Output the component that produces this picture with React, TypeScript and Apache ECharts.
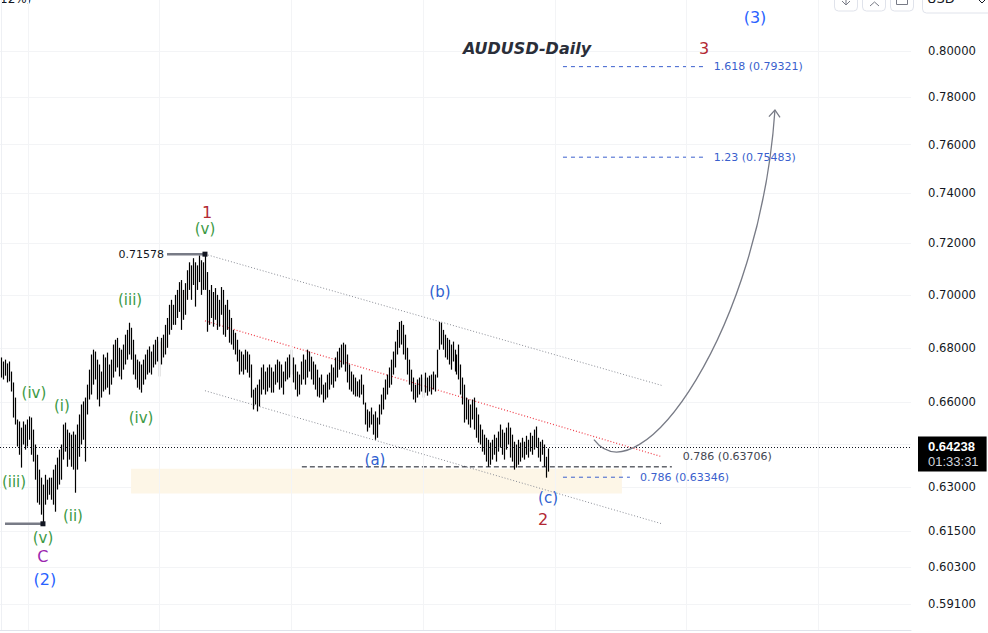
import React, { useEffect, useRef } from "react";
import * as echarts from "echarts";

// ---------- data (AUDUSD daily) ----------
const HIGHS = [
  0.6764, 0.6749, 0.6756, 0.6742, 0.6749, 0.6712, 0.6672, 0.6617, 0.6538, 0.6531,
  0.6509, 0.6531, 0.6520, 0.6538, 0.6549, 0.6545, 0.6502, 0.6449, 0.6413, 0.6361,
  0.6333, 0.6309, 0.6343, 0.6326, 0.6333, 0.6333, 0.6361, 0.6378, 0.6403, 0.6431,
  0.6449, 0.6520, 0.6527, 0.6502, 0.6491, 0.6484, 0.6495, 0.6484, 0.6520, 0.6556,
  0.6592, 0.6603, 0.6617, 0.6664, 0.6719, 0.6775, 0.6793, 0.6786, 0.6756, 0.6738,
  0.6712, 0.6775, 0.6764, 0.6782, 0.6738, 0.6756, 0.6812, 0.6830, 0.6837, 0.6800,
  0.6793, 0.6812, 0.6849, 0.6867, 0.6894, 0.6875, 0.6830, 0.6775, 0.6756, 0.6749,
  0.6738, 0.6756, 0.6775, 0.6793, 0.6805, 0.6786, 0.6812, 0.6830, 0.6841, 0.6823,
  0.6837, 0.6849, 0.6886, 0.6912, 0.6962, 0.6981, 0.6962, 0.7000, 0.7019, 0.7049,
  0.7057, 0.7019, 0.7045, 0.7095, 0.7126, 0.7114, 0.7142, 0.7126, 0.7114, 0.7153,
  0.7134, 0.7126, 0.7158, 0.7088, 0.7019, 0.7038, 0.7011, 0.7026, 0.7000, 0.6981,
  0.7030, 0.7019, 0.6962, 0.6981, 0.6943, 0.6912, 0.6867, 0.6856, 0.6830, 0.6793,
  0.6786, 0.6775, 0.6793, 0.6786, 0.6775, 0.6738, 0.6646, 0.6653, 0.6664, 0.6683,
  0.6727, 0.6738, 0.6712, 0.6727, 0.6738, 0.6727, 0.6712, 0.6738, 0.6756, 0.6749,
  0.6738, 0.6712, 0.6749, 0.6764, 0.6775, 0.6793, 0.6764, 0.6738, 0.6712, 0.6701,
  0.6749, 0.6775, 0.6756, 0.6793, 0.6786, 0.6767, 0.6749, 0.6738, 0.6719, 0.6690,
  0.6701, 0.6664, 0.6672, 0.6701, 0.6708, 0.6738, 0.6727, 0.6764, 0.6786, 0.6800,
  0.6812, 0.6819, 0.6812, 0.6775, 0.6738, 0.6712, 0.6701, 0.6690, 0.6676, 0.6683,
  0.6701, 0.6664, 0.6599, 0.6574, 0.6567, 0.6581, 0.6556, 0.6567, 0.6545, 0.6592,
  0.6628, 0.6653, 0.6683, 0.6701, 0.6727, 0.6756, 0.6786, 0.6823, 0.6867, 0.6897,
  0.6901, 0.6886, 0.6849, 0.6800, 0.6756, 0.6719, 0.6690, 0.6664, 0.6683, 0.6690,
  0.6701, 0.6690, 0.6708, 0.6690, 0.6697, 0.6701, 0.6712, 0.6701, 0.6793, 0.6897,
  0.6894, 0.6867, 0.6849, 0.6837, 0.6830, 0.6812, 0.6823, 0.6793, 0.6775, 0.6812,
  0.6738, 0.6690, 0.6664, 0.6617, 0.6610, 0.6592, 0.6610, 0.6617, 0.6581, 0.6556,
  0.6520, 0.6502, 0.6484, 0.6473, 0.6466, 0.6456, 0.6466, 0.6484, 0.6473, 0.6495,
  0.6520, 0.6502, 0.6491, 0.6509, 0.6527, 0.6509, 0.6484, 0.6459, 0.6449, 0.6466,
  0.6456, 0.6473, 0.6459, 0.6480, 0.6466, 0.6491, 0.6480, 0.6502, 0.6513, 0.6473,
  0.6459, 0.6466, 0.6449, 0.6406, 0.6435,
];
const LOWS = [
  0.6690, 0.6683, 0.6697, 0.6672, 0.6676, 0.6639, 0.6545, 0.6520, 0.6442, 0.6413,
  0.6368, 0.6449, 0.6431, 0.6442, 0.6466, 0.6413, 0.6389, 0.6326, 0.6247, 0.6240,
  0.6206, 0.6175, 0.6240, 0.6257, 0.6274, 0.6257, 0.6240, 0.6216, 0.6292, 0.6309,
  0.6326, 0.6396, 0.6424, 0.6371, 0.6396, 0.6371, 0.6361, 0.6281, 0.6361, 0.6406,
  0.6449, 0.6466, 0.6389, 0.6556, 0.6610, 0.6628, 0.6664, 0.6683, 0.6610, 0.6585,
  0.6617, 0.6639, 0.6646, 0.6653, 0.6628, 0.6664, 0.6690, 0.6712, 0.6727, 0.6694,
  0.6683, 0.6719, 0.6738, 0.6756, 0.6775, 0.6756, 0.6701, 0.6683, 0.6653, 0.6646,
  0.6635, 0.6664, 0.6683, 0.6701, 0.6708, 0.6701, 0.6727, 0.6738, 0.6749, 0.6694,
  0.6738, 0.6764, 0.6775, 0.6800, 0.6849, 0.6867, 0.6886, 0.6886, 0.6912, 0.6935,
  0.6867, 0.6905, 0.6924, 0.6981, 0.7019, 0.6981, 0.7038, 0.6955, 0.7019, 0.7049,
  0.7000, 0.7019, 0.7019, 0.6860, 0.6886, 0.6912, 0.6879, 0.6905, 0.6867, 0.6879,
  0.6924, 0.6849, 0.6841, 0.6867, 0.6819, 0.6812, 0.6793, 0.6775, 0.6749, 0.6701,
  0.6712, 0.6701, 0.6719, 0.6708, 0.6690, 0.6617, 0.6574, 0.6592, 0.6567, 0.6585,
  0.6628, 0.6646, 0.6628, 0.6639, 0.6653, 0.6635, 0.6635, 0.6664, 0.6672, 0.6646,
  0.6653, 0.6628, 0.6676, 0.6683, 0.6690, 0.6701, 0.6672, 0.6646, 0.6621, 0.6628,
  0.6664, 0.6683, 0.6664, 0.6690, 0.6712, 0.6683, 0.6664, 0.6646, 0.6621, 0.6617,
  0.6628, 0.6599, 0.6610, 0.6617, 0.6646, 0.6664, 0.6653, 0.6676, 0.6690, 0.6719,
  0.6727, 0.6738, 0.6712, 0.6672, 0.6646, 0.6639, 0.6628, 0.6621, 0.6621, 0.6617,
  0.6628, 0.6592, 0.6520, 0.6495, 0.6509, 0.6520, 0.6484, 0.6466, 0.6473, 0.6520,
  0.6556, 0.6574, 0.6610, 0.6628, 0.6653, 0.6664, 0.6701, 0.6727, 0.6775, 0.6800,
  0.6812, 0.6775, 0.6756, 0.6701, 0.6664, 0.6639, 0.6610, 0.6599, 0.6617, 0.6628,
  0.6639, 0.6617, 0.6635, 0.6624, 0.6639, 0.6628, 0.6646, 0.6639, 0.6690, 0.6793,
  0.6812, 0.6793, 0.6764, 0.6756, 0.6738, 0.6719, 0.6749, 0.6712, 0.6701, 0.6683,
  0.6628, 0.6592, 0.6527, 0.6538, 0.6520, 0.6509, 0.6538, 0.6502, 0.6473, 0.6456,
  0.6449, 0.6424, 0.6413, 0.6389, 0.6371, 0.6378, 0.6396, 0.6413, 0.6389, 0.6424,
  0.6438, 0.6413, 0.6396, 0.6431, 0.6449, 0.6403, 0.6389, 0.6361, 0.6368, 0.6378,
  0.6389, 0.6403, 0.6396, 0.6413, 0.6403, 0.6424, 0.6413, 0.6431, 0.6438, 0.6403,
  0.6389, 0.6413, 0.6371, 0.6333, 0.6354,
];
const LAST_PRICE = 0.64238;
const LAST_PRICE_TIMER = "01:33:31";

const PRICE_TICKS = [0.8, 0.78, 0.76, 0.74, 0.72, 0.7, 0.68, 0.66, 0.645, 0.63, 0.615, 0.603, 0.591];
const PRICE_MIN = 0.5826;
const PRICE_MAX = 0.8227;
const BAR_SLOTS = 456; // visible bar slots incl. future space
const TIME_GRID_BARS = [13.5, 79.1, 145.1, 211.2, 277.3, 342.8, 408.9];

// Elliott wave labels: [text, bar position, price, degree]
const WAVE_LABELS: [string, number, number, string][] = [
  ["(3)", 377.4, 0.815, "primary"],
  ["3", 351.9, 0.8013, "intermediate"],
  ["1", 103.1, 0.7325, "intermediate"],
  ["(v)", 102.1, 0.7257, "minor"],
  ["(iii)", 64.6, 0.6981, "minor"],
  ["(iv)", 16.5, 0.6635, "minor"],
  ["(i)", 30.5, 0.6588, "minor"],
  ["(iv)", 70.1, 0.6542, "minor"],
  ["(iii)", 6.5, 0.6319, "minor"],
  ["(ii)", 36.0, 0.6202, "minor"],
  ["(v)", 21.0, 0.6127, "minor"],
  ["C", 21.0, 0.6064, "cycleC"],
  ["(2)", 22.0, 0.5991, "primary"],
  ["(b)", 219.7, 0.7011, "abc"],
  ["(a)", 187.2, 0.6396, "abc"],
  ["(c)", 273.8, 0.6264, "abc"],
  ["2", 271.3, 0.6189, "intermediate"],
];

// pivots
const PIVOT_HIGH = { from: 83.1, to: 102.1, price: 0.71578, label: "0.71578" };
const PIVOT_LOW = { from: 2.0, to: 21.0, price: 0.6175 };

// channel: [[bar, price], [bar, price]]
const CHANNEL_UPPER: [number, number][] = [[102.1, 0.71578], [330.8, 0.6661]];
const CHANNEL_MID: [number, number][] = [[102.1, 0.6901], [330.8, 0.6406]];
const CHANNEL_LOWER: [number, number][] = [[102.1, 0.6642], [330.8, 0.6175]];

// fibonacci levels
const FIB_LEVELS = [
  { text: "1.618 (0.79321)", price: 0.79321, from: 281.3, to: 351.4, labelBar: 356.8, labelPrice: 0.79321, kind: "target" },
  { text: "1.23 (0.75483)", price: 0.75483, from: 281.3, to: 351.4, labelBar: 356.8, labelPrice: 0.75483, kind: "target" },
  { text: "0.786 (0.63706)", price: 0.63706, from: 150.6, to: 335.8, labelBar: 341.3, labelPrice: 0.6406, kind: "retrace" },
  { text: "0.786 (0.63346)", price: 0.63346, from: 281.3, to: 314.8, labelBar: 319.8, labelPrice: 0.63346, kind: "target" },
];

// support zone: [bar from, bar to, price high, price low]
const SUPPORT_ZONE = [65.1, 310.8, 0.6364, 0.6278];

// projected path (cubic bezier): start, control 1, control 2, end
const PROJECTION: [number, number][] = [[296.8, 0.6466], [319.8, 0.6257], [379.9, 0.6867], [387.4, 0.7746]];

// ---------- styles ----------
const FONT = "DejaVu Sans";
const DEGREE_STYLE: Record<string, { color: string; size: number }> = {
  primary: { color: "#2962ff", size: 16 },
  intermediate: { color: "#b22833", size: 16 },
  minor: { color: "#3d9a45", size: 15 },
  abc: { color: "#2f5fd0", size: 15 },
  cycleC: { color: "#9c27b0", size: 16 },
};
const L = Math.log;

export default function App() {
  const ref = useRef<HTMLDivElement>(null);

  useEffect(() => {
    if (!ref.current) return;
    const chart = echarts.init(ref.current, undefined, { renderer: "svg" });

    const bars = HIGHS.map((h, i) => [i, L(h), L(LOWS[i])]);
    const tickLn = PRICE_TICKS.map(L);

    const lineSeries = (pts: [number, number][], color: string, type: any, width = 1) => ({
      type: "line",
      silent: true,
      symbol: "none",
      data: pts.map(([b, p]) => [b, L(p)]),
      lineStyle: { color, width, type, opacity: 1 },
      z: 3,
    });

    const plainLabel = { textBorderWidth: 0, textBorderColor: "transparent", textShadowBlur: 0, opacity: 1 };

    const labelData = WAVE_LABELS.map(([text, b, p, deg]) => ({
      value: [b, L(p)],
      label: {
        show: true,
        position: "inside",
        formatter: text,
        color: DEGREE_STYLE[deg].color,
        fontSize: DEGREE_STYLE[deg].size,
        fontFamily: FONT,
        ...plainLabel,
      },
    }));

    const fibLabelData = FIB_LEVELS.map((f) => ({
      value: [f.labelBar, L(f.labelPrice)],
      label: {
        show: true,
        position: "right",
        distance: 0,
        formatter: f.text,
        color: f.kind === "retrace" ? "#434651" : "#3a5fcd",
        fontSize: 11,
        fontFamily: FONT,
        ...plainLabel,
      },
    }));

    const textSeries = (data: any[]) => ({
      type: "scatter",
      silent: true,
      symbolSize: 0,
      z: 7,
      itemStyle: { opacity: 1 },
      data,
    });

    const option: any = {
      animation: false,
      grid: { left: 0, right: 77, top: 0, bottom: 3 },
      xAxis: {
        type: "value",
        min: -0.5,
        max: BAR_SLOTS - 0.5,
        axisLine: { show: true, lineStyle: { color: "#e0e3eb", width: 1 } },
        axisTick: { show: false },
        axisLabel: { show: false },
        splitLine: { show: false },
      },
      yAxis: {
        type: "value",
        position: "right",
        min: L(PRICE_MIN),
        max: L(PRICE_MAX),
        axisLine: { show: true, lineStyle: { color: "#eef0f4" } },
        axisTick: { show: false, customValues: tickLn },
        axisLabel: {
          customValues: tickLn,
          formatter: (v: number) => Math.exp(v).toFixed(5),
          margin: 17,
          color: "#131722",
          fontSize: 11.6,
          fontFamily: FONT,
        },
        splitLine: { show: true, lineStyle: { color: "#f3f4f6" } },
      },
      graphic: [
        { type: "text", left: 0, top: -7, style: { text: "12%)", fontSize: 12, fontFamily: FONT, fill: "#131722" } },
        { type: "rect", shape: { x: 834.5, y: -12, width: 23, height: 23, r: 4 }, style: { fill: "#fff", stroke: "#e0e3eb" } },
        { type: "line", shape: { x1: 846, y1: -5, x2: 846, y2: 5 }, style: { stroke: "#787b86", lineWidth: 1 } },
        { type: "polyline", shape: { points: [[842, 1], [846, 5], [850, 1]] }, style: { stroke: "#787b86", fill: null, lineWidth: 1 } },
        { type: "rect", shape: { x: 862.5, y: -12, width: 23, height: 23, r: 4 }, style: { fill: "#fff", stroke: "#e0e3eb" } },
        { type: "polyline", shape: { points: [[870, 6], [874.5, 2], [879, 6]] }, style: { stroke: "#787b86", fill: null, lineWidth: 1 } },
        { type: "rect", shape: { x: 890.5, y: -12, width: 23, height: 23, r: 4 }, style: { fill: "#fff", stroke: "#e0e3eb" } },
        { type: "polyline", shape: { points: [[896.5, 0], [896.5, 4.5], [907.5, 4.5], [907.5, 0]] }, style: { stroke: "#787b86", fill: null, lineWidth: 1 } },
        { type: "rect", shape: { x: 922.5, y: -12, width: 75, height: 25, r: 4 }, style: { fill: "#fff", stroke: "#e0e3eb" } },
        { type: "text", left: 927, top: -8, style: { text: "USD", fontSize: 13, fontFamily: FONT, fill: "#131722" } },
        { type: "polyline", shape: { points: [[979, 0], [982, 3], [985, 0]] }, style: { stroke: "#131722", fill: null, lineWidth: 1 } },
      ],
      title: {
        text: "AUDUSD-Daily",
        left: 522,
        top: 35,
        textAlign: "center",
        textStyle: { fontFamily: FONT, fontSize: 16, fontStyle: "italic", fontWeight: "bold", color: "#2a2e39" },
      },
      series: [
        // time grid + support zone (background)
        {
          type: "line",
          silent: true,
          data: [],
          z: 1,
          markLine: {
            silent: true,
            symbol: ["none", "none"],
            label: { show: false },
            lineStyle: { color: "#f3f4f6", type: "solid", width: 1 },
            data: TIME_GRID_BARS.map((b) => ({ xAxis: b })),
          },
          markArea: {
            silent: true,
            itemStyle: { color: "#fdf6e7" },
            data: [[
              { coord: [SUPPORT_ZONE[0], L(SUPPORT_ZONE[2])] },
              { coord: [SUPPORT_ZONE[1], L(SUPPORT_ZONE[3])] },
            ]],
          },
        },
        // price bars
        {
          type: "custom",
          silent: true,
          z: 4,
          data: bars,
          encode: { x: 0, y: [1, 2] },
          renderItem: (_p: any, api: any) => {
            const a = api.coord([api.value(0), api.value(1)]);
            const b = api.coord([api.value(0), api.value(2)]);
            const x = Math.round(a[0]) + 0.5;
            return {
              type: "line",
              shape: { x1: x, y1: a[1], x2: x, y2: b[1] },
              style: { stroke: "#000000", lineWidth: 1.2 },
            };
          },
          markLine: {
            silent: true,
            symbol: ["none", "none"],
            lineStyle: { color: "#131722", type: [1, 2], width: 1 },
            label: {
              show: true,
              position: "end",
              distance: 7,
              offset: [0, 7],
              backgroundColor: "#000",
              padding: [3, 8, 2, 10],
              formatter: () => `{a|${LAST_PRICE.toFixed(5)}}\n{b|${LAST_PRICE_TIMER}}`,
              rich: {
                a: { color: "#ffffff", fontSize: 13, fontWeight: "bold", fontFamily: "Liberation Sans", lineHeight: 15 },
                b: { color: "#d1d4dc", fontSize: 13, fontFamily: "Liberation Sans", lineHeight: 15 },
              },
            },
            data: [{ yAxis: L(LAST_PRICE) }],
          },
        },
        // channel
        lineSeries(CHANNEL_UPPER, "#8a8d96", [1, 2]),
        lineSeries(CHANNEL_MID, "#ef3b47", [1, 2], 1.2),
        lineSeries(CHANNEL_LOWER, "#8a8d96", [1, 2]),
        // fib lines
        ...FIB_LEVELS.map((f) =>
          lineSeries(
            [[f.from, f.price], [f.to, f.price]],
            f.kind === "retrace" ? "#131722" : "#3a5fcd",
            f.kind === "retrace" ? [5, 3] : [4, 4]
          )
        ),
        // pivots
        {
          type: "line",
          silent: true,
          z: 5,
          showSymbol: true,
          data: [
            { value: [PIVOT_HIGH.from, L(PIVOT_HIGH.price)], symbol: "none" },
            { value: [PIVOT_HIGH.to, L(PIVOT_HIGH.price)], symbol: "rect", symbolSize: 5 },
          ],
          lineStyle: { color: "#787b86", width: 2.5 },
          itemStyle: { color: "#131722" },
        },
        {
          type: "line",
          silent: true,
          z: 5,
          showSymbol: true,
          data: [
            { value: [PIVOT_LOW.from, L(PIVOT_LOW.price)], symbol: "none" },
            { value: [PIVOT_LOW.to, L(PIVOT_LOW.price)], symbol: "rect", symbolSize: 5 },
          ],
          lineStyle: { color: "#787b86", width: 2.5 },
          itemStyle: { color: "#131722" },
        },
        textSeries([
          {
            value: [PIVOT_HIGH.from - 1.5, L(PIVOT_HIGH.price)],
            label: { show: true, position: "left", distance: 0, formatter: PIVOT_HIGH.label, color: "#131722", fontSize: 11, fontFamily: FONT, ...plainLabel },
          },
        ]),
        // projection arrow
        {
          type: "custom",
          silent: true,
          z: 5,
          data: [[PROJECTION[0][0], L(PROJECTION[0][1])]],
          renderItem: (_p: any, api: any) => {
            const [p0, p1, p2, p3] = PROJECTION.map(([b, p]) => api.coord([b, L(p)]));
            const dx = p3[0] - p2[0];
            const dy = p3[1] - p2[1];
            const len = Math.hypot(dx, dy);
            const ux = dx / len;
            const uy = dy / len;
            const ang = (38 * Math.PI) / 180;
            const hl = 9;
            const wing = (s: number) => [
              p3[0] - hl * (ux * Math.cos(ang) - s * uy * Math.sin(ang)),
              p3[1] - hl * (uy * Math.cos(ang) + s * ux * Math.sin(ang)),
            ];
            return {
              type: "group",
              children: [
                {
                  type: "bezierCurve",
                  shape: { x1: p0[0], y1: p0[1], cpx1: p1[0], cpy1: p1[1], cpx2: p2[0], cpy2: p2[1], x2: p3[0], y2: p3[1] },
                  style: { stroke: "#787b86", fill: null, lineWidth: 1.3 },
                },
                {
                  type: "polyline",
                  shape: { points: [wing(1), p3, wing(-1)] },
                  style: { stroke: "#787b86", fill: null, lineWidth: 1.3 },
                },
              ],
            };
          },
        },
        // wave + fib labels
        textSeries(labelData),
        textSeries(fibLabelData),
      ],
    };

    chart.setOption(option);
    return () => chart.dispose();
  }, []);

  return <div ref={ref} style={{ position: "fixed", left: 0, top: 0, width: 988, height: 633, background: "#fff" }} />;
}
